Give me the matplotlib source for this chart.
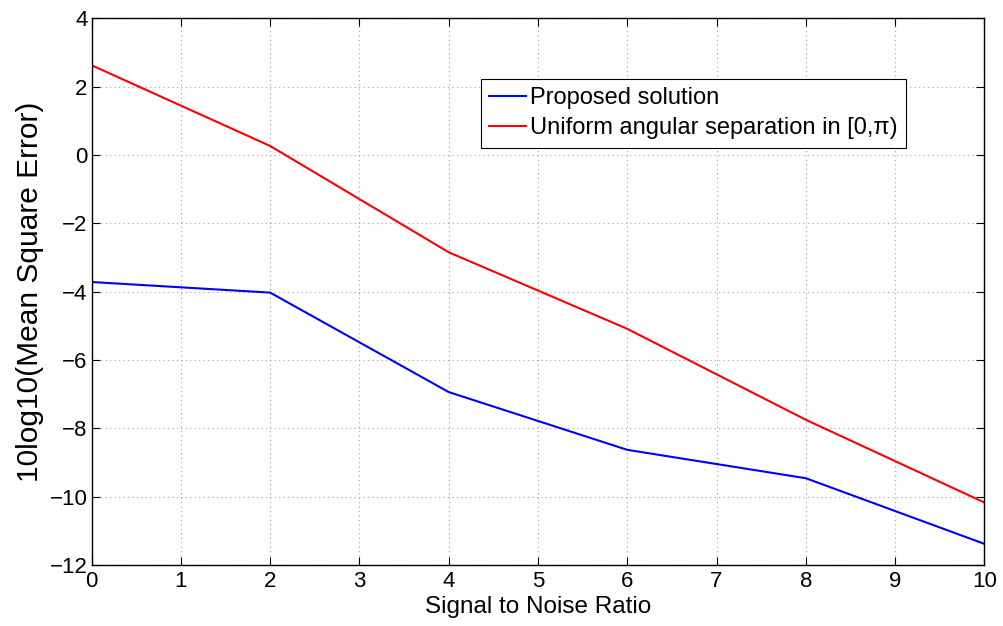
import matplotlib
matplotlib.use("Agg")
import matplotlib.pyplot as plt

snr = [0, 2, 4, 6, 8, 10]
proposed = [-3.72, -4.03, -6.94, -8.63, -9.46, -11.38]
uniform = [2.62, 0.26, -2.85, -5.09, -7.75, -10.17]

xticks = list(range(0, 11))
yticks = list(range(-12, 5, 2))

plt.rcParams['font.family'] = ['Liberation Sans', 'DejaVu Sans']

fig = plt.figure(figsize=(10.04, 6.26), dpi=100)
ax = fig.add_axes([0.0913, 0.0974, 0.8891, 0.8736])

ax.plot(snr, proposed, color='#0000ff', lw=1.5, label='Proposed solution')
ax.plot(snr, uniform, color='#ff0000', lw=1.5, label='Uniform angular separation in [0,π)')

ax.set_xlim(0, 10)
ax.set_ylim(-12, 4)
ax.set_xticks(xticks)
ax.set_yticks(yticks)
ax.set_xticklabels([str(t) for t in xticks])
ax.set_yticklabels([str(t).replace('-', '\u2212') for t in yticks])

ax.grid(True, color='#a0a0a0', linestyle=(0, (1, 3)), lw=0.8)
ax.tick_params(direction='in', length=6, width=0.8, top=True, right=True,
               labelsize=16)
ax.tick_params(axis='x', pad=4)
ax.tick_params(axis='y', pad=3)
for s in ax.spines.values():
    s.set_linewidth(1.0)

ax.set_xlabel('Signal to Noise Ratio', fontsize=17.5, labelpad=3)
ax.set_ylabel('10log10(Mean Square Error)', fontsize=21.5, labelpad=4)

leg = ax.legend(loc='upper left', bbox_to_anchor=(0.436, 0.889), borderaxespad=0,
                fontsize=17, frameon=True, fancybox=False, framealpha=1,
                edgecolor='black', handlelength=1.55, handletextpad=0.2,
                borderpad=0.35, labelspacing=0.35)
leg.get_frame().set_linewidth(0.8)

fig.savefig('out.png', dpi=100)
